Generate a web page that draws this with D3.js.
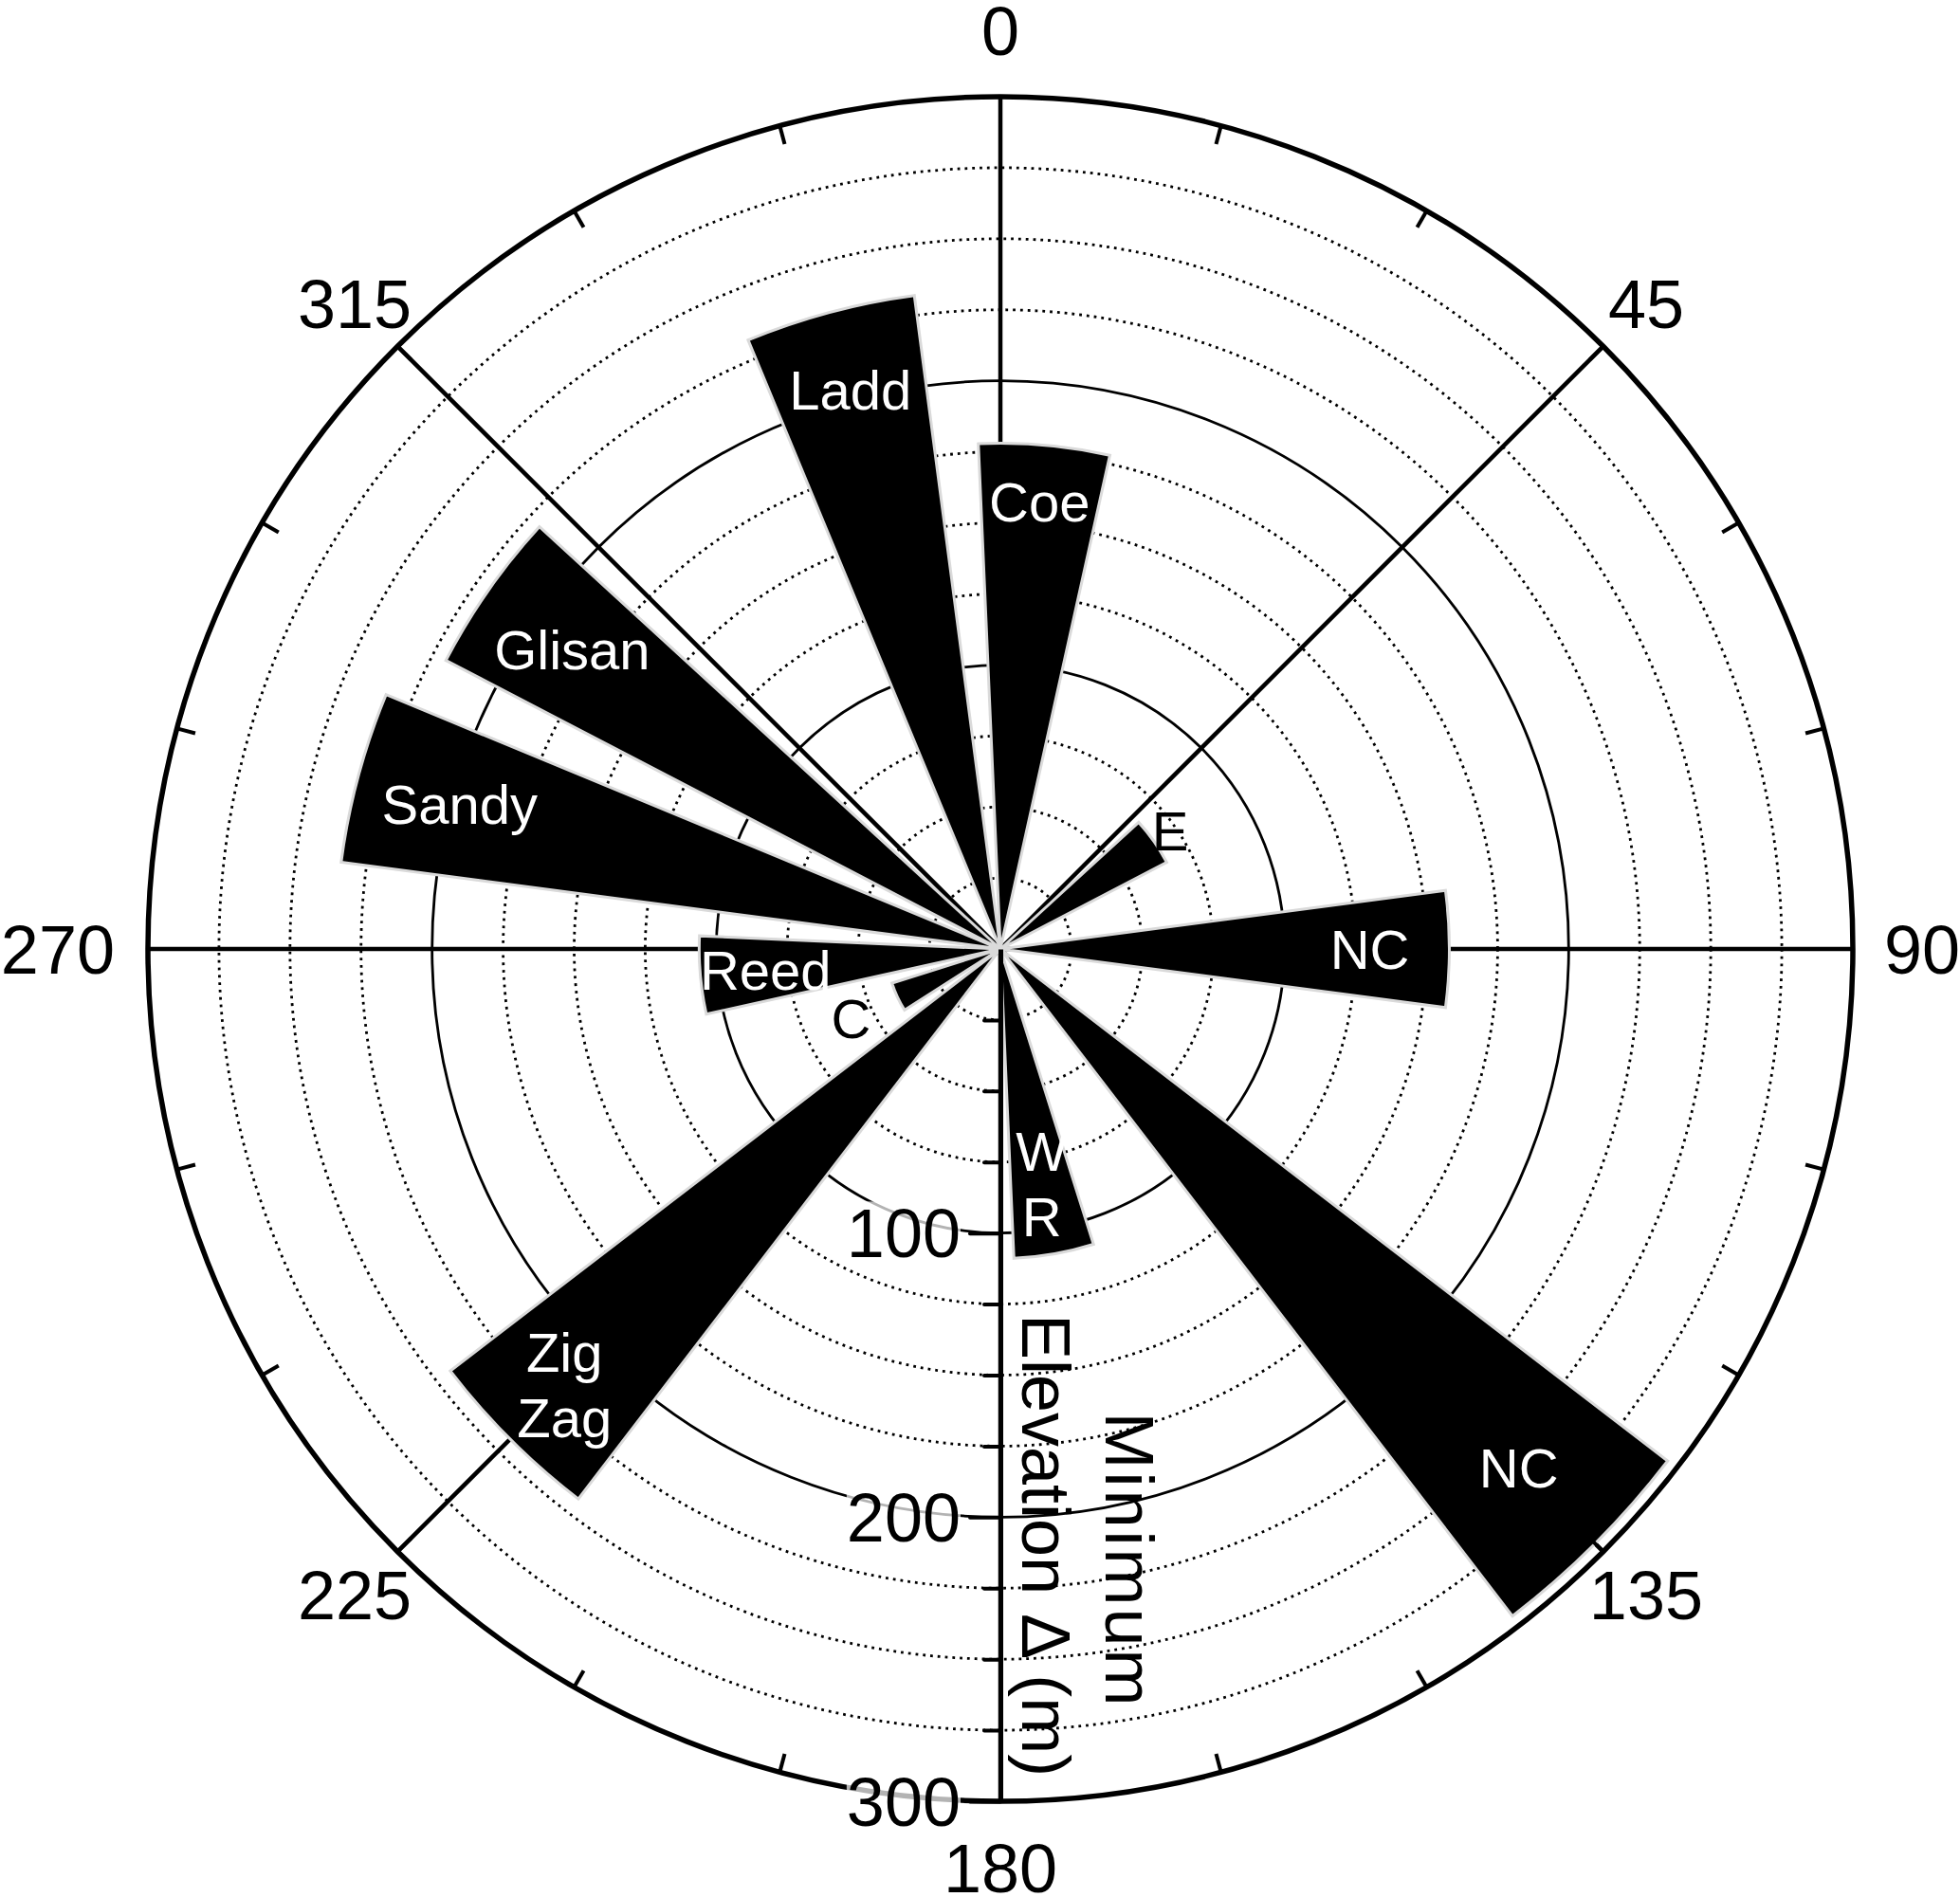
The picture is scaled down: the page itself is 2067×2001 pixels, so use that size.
<!DOCTYPE html>
<html>
<head>
<meta charset="utf-8">
<script src="https://cdn.jsdelivr.net/npm/d3@7"></script>
<style>
  body { margin: 0; background: #fff; }
  svg { display: block; font-family: "Liberation Sans", Arial, sans-serif; }
</style>
</head>
<body>
<div class="chart"></div>
<script>
const svgWidth = 2067;
const svgHeight = 2001;
const cx = 1055, cy = 1001, R = 899;

// data: bin centre azimuth (deg) and minimum elevation change (m)
const sites = ["Coe", "Ladd", "Glisan", "Sandy", "Reed", "C", "Zig\nZag", "W\nR", "NC", "NC", "E"];
const azimuth = [5, 345, 305, 285, 265, 245, 225, 170, 135, 90, 55];
const minElevation = [178, 232, 220, 234, 106, 40, 244, 109, 296, 158, 66];
const binWidth = 15;

const angleLabels = [0, 45, 90, 135, 180, 225, 270, 315];
const radialMajor = [100, 200, 300];
const radialMinor = [25, 50, 75, 125, 150, 175, 225, 250, 275];

// where each site name sits along its bin (m from centre)
const labelRadius = [158, 204, 184, 197, 83, 58, 217, 84, 258, 130, 73];
const darkLabels = ["C", "E"];

const svg = d3.select(".chart")
    .append("svg")
    .attr("width", svgWidth)
    .attr("height", svgHeight);

const r = d3.scaleLinear().domain([0, 300]).range([0, R]);
const rad = d => d * Math.PI / 180;

const g = svg.append("g").attr("transform", `translate(${cx},${cy})`);

// grid circles
g.selectAll("circle.minor")
    .data(radialMinor)
    .join("circle")
    .attr("class", "minor")
    .attr("r", d => r(d))
    .attr("fill", "none")
    .attr("stroke", "#000")
    .attr("stroke-width", 2.8)
    .attr("stroke-dasharray", "2.8 5");

g.selectAll("circle.major")
    .data(radialMajor.filter(d => d < 300))
    .join("circle")
    .attr("class", "major")
    .attr("r", d => r(d))
    .attr("fill", "none")
    .attr("stroke", "#000")
    .attr("stroke-width", 2.8);

// spokes every 45 deg
g.selectAll("line.spoke")
    .data(angleLabels)
    .join("line")
    .attr("class", "spoke")
    .attr("x1", 0).attr("y1", 0)
    .attr("x2", d => R * Math.sin(rad(d)))
    .attr("y2", d => -R * Math.cos(rad(d)))
    .attr("stroke", "#000")
    .attr("stroke-width", 4.5);

// wedges
const arc = d3.arc()
    .innerRadius(0)
    .outerRadius(i => r(minElevation[i]))
    .startAngle(i => rad(azimuth[i] - binWidth / 2))
    .endAngle(i => rad(azimuth[i] + binWidth / 2));

g.selectAll("path.wedge")
    .data(d3.range(sites.length))
    .join("path")
    .attr("class", "wedge")
    .attr("d", arc)
    .attr("fill", "#000")
    .attr("stroke", "#dadada")
    .attr("stroke-width", 3)
    .attr("stroke-linejoin", "miter");

// outer circle and angular ticks
g.append("circle")
    .attr("r", R)
    .attr("fill", "none")
    .attr("stroke", "#000")
    .attr("stroke-width", 5.5);

g.selectAll("line.atick")
    .data(d3.range(0, 360, 15))
    .join("line")
    .attr("class", "atick")
    .attr("x1", d => (R - 20) * Math.sin(rad(d)))
    .attr("y1", d => -(R - 20) * Math.cos(rad(d)))
    .attr("x2", d => R * Math.sin(rad(d)))
    .attr("y2", d => -R * Math.cos(rad(d)))
    .attr("stroke", "#000")
    .attr("stroke-width", 4);

// radial axis along 180 deg
const minorAxis = g.append("g")
    .call(d3.axisLeft(r).tickValues(radialMinor).tickSize(17).tickFormat(""));
minorAxis.select(".domain").remove();
minorAxis.selectAll(".tick line")
    .attr("stroke-width", 4)
    .attr("stroke-linecap", "round");

const majorAxis = g.append("g")
    .call(d3.axisLeft(r).tickValues(radialMajor).tickSize(32).tickSizeOuter(0).tickPadding(10));
majorAxis.attr("font-size", 72).attr("font-family", null);
majorAxis.select(".domain").attr("stroke-width", 5);
majorAxis.selectAll(".tick line")
    .attr("stroke-width", 4)
    .attr("stroke-linecap", "round");
majorAxis.selectAll(".tick text")
    .attr("fill", "#000")
    .attr("dy", "0.35em")
    .each(function () {
        const b = this.getBBox();
        d3.select(this.parentNode).insert("rect", "text")
            .attr("x", b.x).attr("y", b.y + 6)
            .attr("width", b.width).attr("height", b.height - 12)
            .attr("fill", "#fff")
            .attr("opacity", 0.7);
    });

// angular labels
svg.append("g")
    .attr("font-size", 72)
    .selectAll("text")
    .data(angleLabels)
    .join("text")
    .attr("text-anchor", d => d === 90 ? "start" : d === 270 ? "end" : "middle")
    .attr("x", d => {
        if (d === 90) return cx + R + 33;
        if (d === 270) return cx - R - 35;
        if (d === 0 || d === 180) return cx;
        return cx + (R + 64) * Math.sin(rad(d));
    })
    .attr("y", d => {
        if (d === 0) return cy - R - 44;
        if (d === 180) return cy + R + 96;
        if (d === 90 || d === 270) return cy + 26;
        return cy - (R + 64) * Math.cos(rad(d)) + 26;
    })
    .text(d => d);

// site names
const names = g.append("g").attr("font-size", 58).attr("text-anchor", "middle");
sites.forEach((s, i) => {
    const a = rad(azimuth[i]);
    const x = r(labelRadius[i]) * Math.sin(a);
    const y = -r(labelRadius[i]) * Math.cos(a);
    const lines = s.split("\n");
    const t = names.append("text")
        .attr("fill", darkLabels.includes(s) ? "#000" : "#fff");
    lines.forEach((ln, k) => {
        t.append("tspan")
            .attr("x", x)
            .attr("y", y + 21 + (k - (lines.length - 1) / 2) * 69)
            .text(ln);
    });
});

// axis title
const title = svg.append("text")
    .attr("transform", `translate(1078,1630) rotate(90)`)
    .attr("text-anchor", "middle")
    .attr("font-size", 72);
title.append("tspan").attr("x", 16).attr("y", -88)
    .attr("letter-spacing", 3).text("Minimum");
title.append("tspan").attr("x", 0).attr("y", 0).text("Elevation \u0394 (m)");
</script>
</body>
</html>
